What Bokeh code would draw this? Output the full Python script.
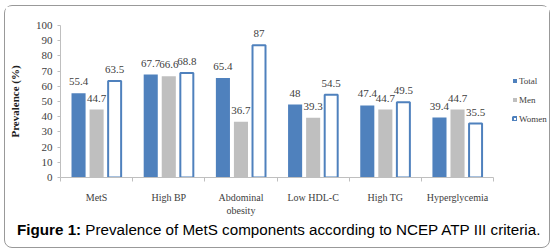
from bokeh.plotting import figure
from bokeh.models import (Range1d, FixedTicker, LabelSet, ColumnDataSource, Legend,
                          LegendItem, Div)
from bokeh.layouts import column
from bokeh.core.properties import value
from bokeh.embed import file_html
from bokeh.resources import INLINE

categories = ["MetS", "High BP", "Abdominal\nobesity", "Low HDL-C", "High TG", "Hyperglycemia"]
total = [55.4, 67.7, 65.4, 48, 47.4, 39.4]
men = [44.7, 66.6, 36.7, 39.3, 44.7, 44.7]
women = [63.5, 68.8, 87, 54.5, 49.5, 35.5]
series_names = ["Total", "Men", "Women"]
y_ticks = [0, 10, 20, 30, 40, 50, 60, 70, 80, 90, 100]
y_title = "Prevalence (%)"
caption_bold = "Figure 1:"
caption_text = "Prevalence of MetS components according to NCEP ATP III criteria."

BLUE = "#4F81BD"
GRAY = "#BFBFBF"
TXT = "#404040"
SERIF = "Liberation Serif"

# frame 490px wide; the categories occupy the first 434px, the rest holds the legend
n = len(categories)
x_end = n * 490.0 / 434.0

p = figure(width=544, height=216, output_backend="svg", toolbar_location=None,
           x_range=Range1d(0, x_end), y_range=Range1d(0, 100), title=None,
           min_border_left=54, min_border_right=0, min_border_top=19, min_border_bottom=45)
p.outline_line_color = None
p.grid.visible = False
p.background_fill_color = "white"
p.border_fill_color = "white"

offsets = [-0.25, 0.0, 0.25]
series_vals = [total, men, women]
renderers = []
for k, (name, vals) in enumerate(zip(series_names, series_vals)):
    xs = [i + 0.5 + offsets[k] for i in range(n)]
    src = ColumnDataSource(dict(x=xs, top=vals, lab=["{:g}".format(v) for v in vals]))
    if name == "Women":
        r = p.vbar(x="x", top="top", width=0.18, bottom=0, source=src,
                   fill_color="white", line_color=BLUE, line_width=2)
    elif name == "Total":
        r = p.vbar(x="x", top="top", width=0.195, bottom=0, source=src,
                   fill_color=BLUE, line_color=None)
    else:
        r = p.vbar(x="x", top="top", width=0.195, bottom=0, source=src,
                   fill_color=GRAY, line_color=None)
    renderers.append(r)
    ls = LabelSet(x="x", y="top", text="lab", source=src, y_offset=8,
                  text_align="center", text_baseline="alphabetic",
                  text_font=value(SERIF), text_font_size="11px", text_color=TXT)
    p.add_layout(ls)

# x axis: labels at category centres, tick marks at boundaries
xa = p.xaxis[0]
xa.bounds = (0, n)
xa.ticker = FixedTicker(ticks=[i + 0.5 for i in range(n)],
                        minor_ticks=list(range(n + 1)))
xa.major_label_overrides = {i + 0.5: c for i, c in enumerate(categories)}
xa.major_tick_line_color = None
xa.major_tick_out = 0
xa.major_tick_in = 0
xa.minor_tick_in = 0
xa.minor_tick_out = 4
xa.minor_tick_line_color = "#BFBFBF"
xa.axis_line_color = "#BFBFBF"
xa.major_label_standoff = 10
xa.major_label_text_font = SERIF
xa.major_label_text_font_size = "10px"
xa.major_label_text_color = TXT

ya = p.yaxis[0]
ya.ticker = FixedTicker(ticks=y_ticks, minor_ticks=[])
ya.axis_line_color = "#BFBFBF"
ya.major_tick_line_color = "#BFBFBF"
ya.major_tick_in = 0
ya.major_tick_out = 3
ya.minor_tick_line_color = None
ya.major_label_standoff = 5
ya.major_label_text_font = SERIF
ya.major_label_text_font_size = "11px"
ya.major_label_text_color = TXT
ya.axis_label = y_title
ya.axis_label_text_font = SERIF
ya.axis_label_text_font_size = "11px"
ya.axis_label_text_font_style = "bold"
ya.axis_label_text_color = "#202020"
ya.axis_label_standoff = 12

legend = Legend(items=[LegendItem(label=s, renderers=[r]) for s, r in zip(series_names, renderers)],
                location=(452, 52), glyph_width=5, glyph_height=5, label_standoff=2,
                spacing=6, label_height=13, padding=0, margin=0,
                label_text_font=SERIF, label_text_font_size="9px", label_text_color=TXT,
                border_line_color=None, background_fill_alpha=0)
p.add_layout(legend)

cap = Div(text="<b>%s</b> %s" % (caption_bold, caption_text), width=544, height=25,
          styles={"font-family": "Liberation Sans", "font-size": "15.2px",
                  "line-height": "15px", "color": "#000000", "padding-left": "12px",
                  "margin": "0px", "box-sizing": "border-box", "white-space": "nowrap"})

layout = column(p, cap, spacing=0, margin=(5, 0, 0, 4),
                styles={"border": "1px solid #999999", "border-radius": "8px"})

open("out.html", "w").write(file_html(layout, INLINE))
